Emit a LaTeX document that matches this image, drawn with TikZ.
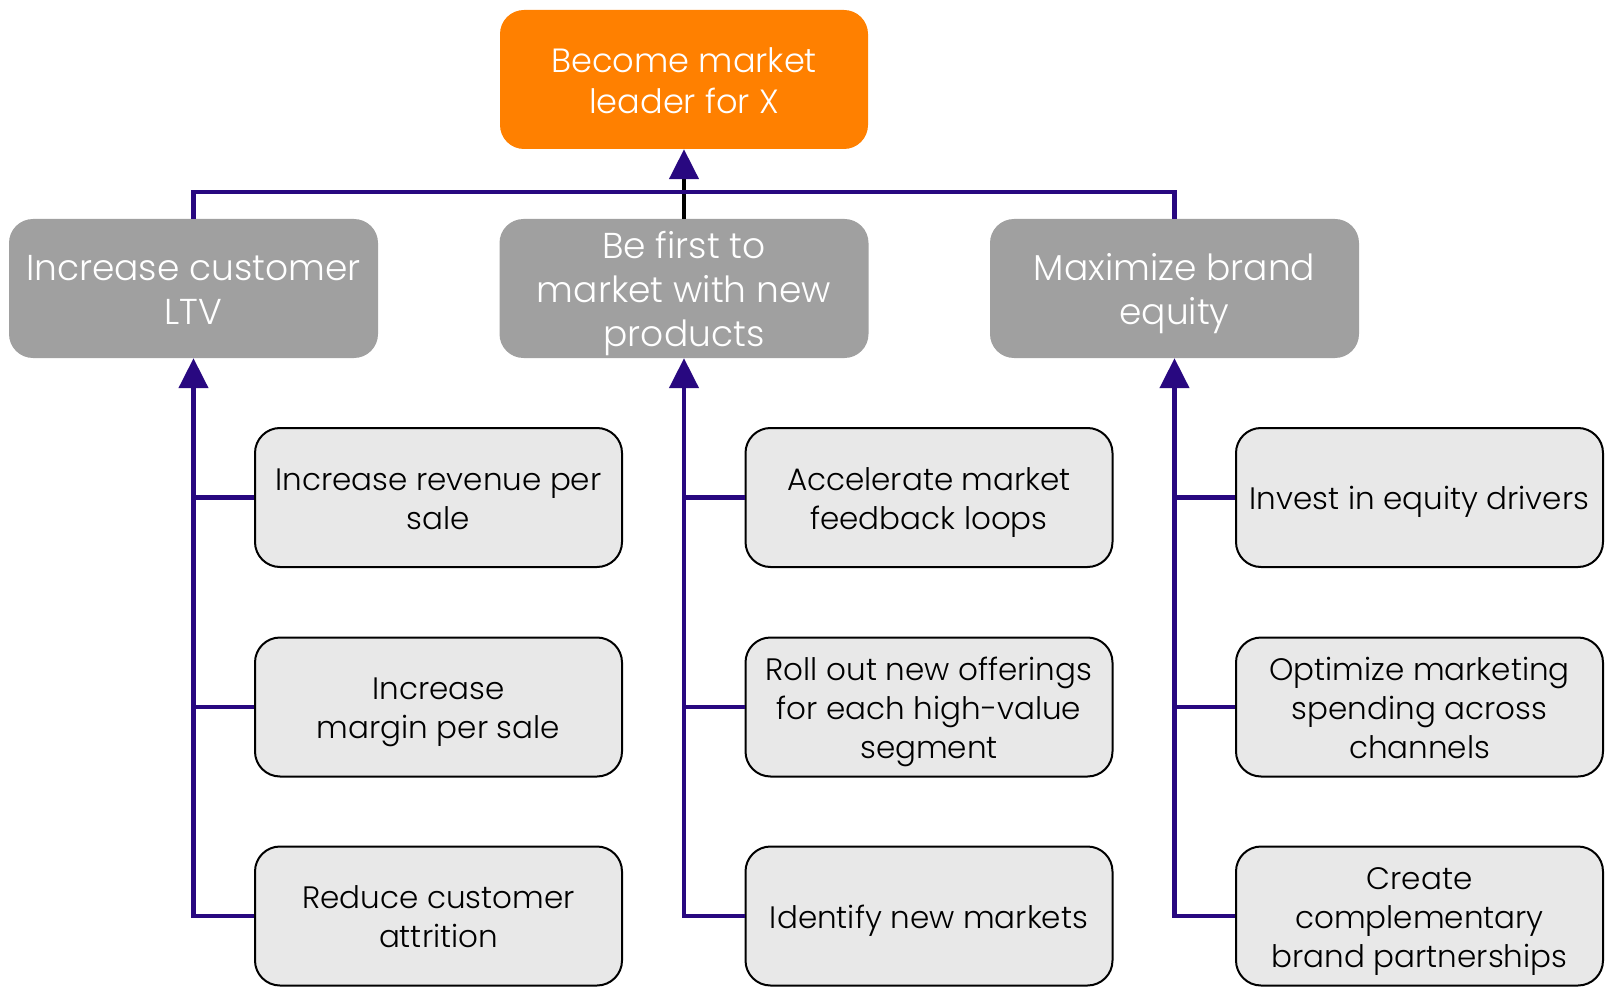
\documentclass[tikz,border=0pt]{standalone}
\usepackage{fontspec}
\IfFontExistsTF{Poppins Light}{\setmainfont{Poppins Light}}{\setmainfont{Poppins}}
\usetikzlibrary{arrows.meta}
\definecolor{goalorange}{RGB}{255,128,0}
\definecolor{themegray}{RGB}{160,160,160}
\definecolor{tacticfill}{RGB}{232,232,232}
\definecolor{linkindigo}{RGB}{40,8,128}
% one text line with fixed ascent/descent, so every block is n baselines tall
\newcommand\tline[1]{\raisebox{0pt}[0.82\baselineskip][0.18\baselineskip]{#1}}
\tikzset{
  goalbox/.style={rectangle, rounded corners=24pt, fill=goalorange, text=white,
    minimum width=368pt, minimum height=139pt, inner sep=0pt, align=center,
    font=\fontsize{33.6}{41}\selectfont},
  themebox/.style={rectangle, rounded corners=24pt, fill=themegray, text=white,
    minimum width=369pt, minimum height=139pt, inner sep=0pt, align=center,
    font=\fontsize{36}{44}\selectfont},
  tacticbox/.style={rectangle, rounded corners=25pt, fill=tacticfill, draw=black,
    line width=2pt, minimum width=367pt, minimum height=139pt, inner sep=0pt,
    align=center, font=\fontsize{31}{39}\selectfont},
  link/.style={draw=linkindigo, line width=4.5pt},
  linkarrow/.style={link, -{Triangle[width=29pt,length=30pt,color=linkindigo]}}
}
\begin{document}
\begin{tikzpicture}[x=1pt,y=-1pt]
\useasboundingbox (0,0) rectangle (1609,992);

% goal
\node[goalbox] (goal) at (684,79.5) {\tline{Become market}\\\tline{leader for X}};

% themes
\node[themebox] (t1) at (193.5,288.5) {\tline{Increase customer}\\\tline{LTV}};
\node[themebox] (t2) at (684,288.5) {\tline{Be first to}\\\tline{market with new}\\\tline{products}};
\node[themebox] (t3) at (1174.5,288.5) {\tline{Maximize brand}\\\tline{equity}};

% tactics, column 1
\node[tacticbox] (a1) at (438.5,497.5) {\tline{Increase revenue per}\\\tline{sale}};
\node[tacticbox] (a2) at (438.5,707) {\tline{Increase}\\\tline{margin per sale}};
\node[tacticbox] (a3) at (438.5,916) {\tline{Reduce customer}\\\tline{attrition}};
% tactics, column 2
\node[tacticbox] (b1) at (929,497.5) {\tline{Accelerate market}\\\tline{feedback loops}};
\node[tacticbox] (b2) at (929,707) {\tline{Roll out new offerings}\\\tline{for each high-value}\\\tline{segment}};
\node[tacticbox] (b3) at (929,916) {\tline{Identify new markets}};
% tactics, column 3
\node[tacticbox] (c1) at (1419.5,497.5) {\tline{Invest in equity drivers}};
\node[tacticbox] (c2) at (1419.5,707) {\tline{Optimize marketing}\\\tline{spending across}\\\tline{channels}};
\node[tacticbox] (c3) at (1419.5,916) {\tline{Create}\\\tline{complementary}\\\tline{brand partnerships}};

% themes to goal
\coordinate (bar) at (684,192);
\draw[line width=4.5pt, black, -{Triangle[width=29pt,length=30pt,color=linkindigo]}]
  (t2.north) -- (goal.south);
\draw[link] (t1.north) |- (bar) -| (t3.north);

% tactics to themes
\foreach \col/\th in {a/t1, b/t2, c/t3} {
  \draw[linkarrow] (\col3.west) -| (\th.south);
  \draw[link] (\col1.west) -- (\col1.west -| \th.south);
  \draw[link] (\col2.west) -- (\col2.west -| \th.south);
}
\end{tikzpicture}
\end{document}
